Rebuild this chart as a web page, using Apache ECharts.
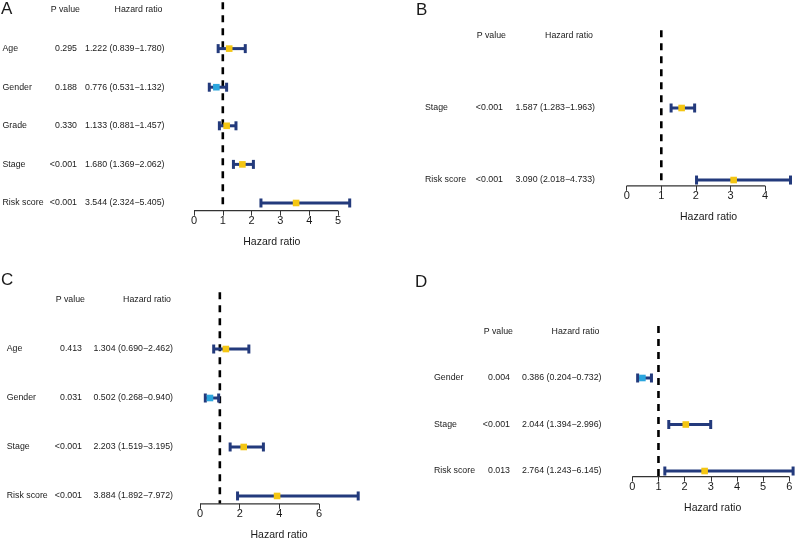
<!DOCTYPE html>
<html><head><meta charset="utf-8">
<script src="https://cdn.jsdelivr.net/npm/echarts@6/dist/echarts.min.js"></script>
<style>html,body{margin:0;padding:0;background:#fff}#c{width:796px;height:542px}</style>
</head><body><div id="c"></div>
<script>
// ---- Panel A ----
const aVars = ['Age', 'Gender', 'Grade', 'Stage', 'Risk score'];
const aP = ['0.295', '0.188', '0.330', '<0.001', '<0.001'];
const aHR = [1.222, 0.776, 1.133, 1.680, 3.544];
const aLow = [0.839, 0.531, 0.881, 1.369, 2.324];
const aHigh = [1.780, 1.132, 1.457, 2.062, 5.405];
const aTicks = [0, 1, 2, 3, 4, 5];
// ---- Panel B ----
const bVars = ['Stage', 'Risk score'];
const bP = ['<0.001', '<0.001'];
const bHR = [1.587, 3.090];
const bLow = [1.283, 2.018];
const bHigh = [1.963, 4.733];
const bTicks = [0, 1, 2, 3, 4];
// ---- Panel C ----
const cVars = ['Age', 'Gender', 'Stage', 'Risk score'];
const cP = ['0.413', '0.031', '<0.001', '<0.001'];
const cHR = [1.304, 0.502, 2.203, 3.884];
const cLow = [0.690, 0.268, 1.519, 1.892];
const cHigh = [2.462, 0.940, 3.195, 7.972];
const cTicks = [0, 2, 4, 6];
// ---- Panel D ----
const dVars = ['Gender', 'Stage', 'Risk score'];
const dP = ['0.004', '<0.001', '0.013'];
const dHR = [0.386, 2.044, 2.764];
const dLow = [0.204, 1.394, 1.243];
const dHigh = [0.732, 2.996, 6.145];
const dTicks = [0, 1, 2, 3, 4, 5, 6];

const FONT = '"Liberation Sans", Arial, Helvetica, sans-serif';
const NAVY = '#233a7c', YEL = '#f4c613', BLUE = '#2ba6de', TXT = '#1a1a1a';

const panels = [
  {letter: 'A', vars: aVars, p: aP, hr: aHR, low: aLow, high: aHigh, ticks: aTicks,
   grid: {left: 194, top: 2.3, width: 155.7, height: 208.4}, lx: 1, ly: 1,
   labelX: 2.5, pRight: 77, hrRight: 164.5},
  {letter: 'B', vars: bVars, p: bP, hr: bHR, low: bLow, high: bHigh, ticks: bTicks,
   grid: {left: 626.7, top: 30.2, width: 163.8, height: 155.6}, lx: 416, ly: 2,
   labelX: 425, pRight: 503, hrRight: 595},
  {letter: 'C', vars: cVars, p: cP, hr: cHR, low: cLow, high: cHigh, ticks: cTicks,
   grid: {left: 200, top: 292.2, width: 158.2, height: 211.6}, lx: 1, ly: 272,
   labelX: 6.7, pRight: 82, hrRight: 173},
  {letter: 'D', vars: dVars, p: dP, hr: dHR, low: dLow, high: dHigh, ticks: dTicks,
   grid: {left: 632.3, top: 325.9, width: 160.8, height: 150.7}, lx: 415, ly: 274,
   labelX: 434, pRight: 510, hrRight: 601.5}
];

function txt(x, y, s, align, size) {
  return {type: 'text', x: x, y: y, style: {text: s, fill: TXT, font: (size || 8.8) + 'px ' + FONT,
    align: align, verticalAlign: 'middle', textAlign: align, textVerticalAlign: 'middle'}};
}

const grids = [], xAxes = [], yAxes = [], series = [], titles = [];
panels.forEach((P, k) => {
  const n = P.vars.length;
  const yMin = 1 - 0.04 * n, yMax = n + 1 + 0.04 * n;
  grids.push(Object.assign({outerBoundsMode: 'none', containLabel: false}, P.grid));
  titles.push({text: P.letter, left: P.lx, top: P.ly, padding: 0,
    textStyle: {fontSize: 17, fontWeight: 'normal', color: TXT, fontFamily: FONT}});
  xAxes.push({gridIndex: k, type: 'value', min: 0, max: Math.max(...P.high),
    axisLine: {show: false}, splitLine: {show: false},
    axisTick: {show: true, customValues: P.ticks, length: 5, lineStyle: {color: '#333', width: 1}},
    axisLabel: {customValues: P.ticks, margin: 5, fontSize: 11, color: TXT, fontFamily: FONT},
    name: 'Hazard ratio', nameLocation: 'middle', nameGap: 26,
    nameTextStyle: {fontSize: 10.5, color: TXT, fontFamily: FONT}});
  yAxes.push({gridIndex: k, type: 'value', min: yMin, max: yMax, show: false});
  // frame: headers, reference line at HR = 1, axis line between first and last tick
  series.push({type: 'custom', xAxisIndex: k, yAxisIndex: k, z: 1, clip: false, silent: true,
    data: [[1, n + 1]],
    renderItem: function (params, api) {
      const h = api.coord([0, n + 1])[1];
      const top = api.coord([1, yMax]), bot = api.coord([1, yMin]);
      const a0 = api.coord([P.ticks[0], yMin]), a1 = api.coord([P.ticks[P.ticks.length - 1], yMin]);
      return {type: 'group', children: [
        {type: 'line', shape: {x1: top[0], y1: top[1], x2: bot[0], y2: bot[1]},
         style: {stroke: '#000', lineWidth: 2.6, lineDash: [7, 6]}},
        {type: 'line', shape: {x1: a0[0], y1: a0[1], x2: a1[0], y2: a1[1]},
         style: {stroke: '#333', lineWidth: 1.2}},
        txt(P.pRight + 3, h, 'P value', 'right'),
        txt(P.hrRight - 2, h, 'Hazard ratio', 'right')
      ]};
    }});
  // rows: CI bars, HR squares, text columns
  series.push({type: 'custom', xAxisIndex: k, yAxisIndex: k, z: 2, clip: false, silent: true,
    data: P.hr.map((h, i) => [h, n - i, P.low[i], P.high[i]]),
    renderItem: function (params, api) {
      const i = params.dataIndex;
      const yv = api.value(1);
      const c = api.coord([api.value(0), yv]);
      const lo = api.coord([api.value(2), yv]);
      const hi = api.coord([api.value(3), yv]);
      const cap = 4.5, sq = 6.6;
      const bs = {stroke: NAVY, lineWidth: 3};
      const hrText = P.hr[i].toFixed(3) + ' (' + P.low[i].toFixed(3) + '\u2212' + P.high[i].toFixed(3) + ')';
      return {type: 'group', children: [
        {type: 'line', shape: {x1: lo[0], y1: lo[1], x2: hi[0], y2: hi[1]}, style: bs},
        {type: 'line', shape: {x1: lo[0], y1: lo[1] - cap, x2: lo[0], y2: lo[1] + cap}, style: bs},
        {type: 'line', shape: {x1: hi[0], y1: hi[1] - cap, x2: hi[0], y2: hi[1] + cap}, style: bs},
        {type: 'rect', shape: {x: c[0] - sq / 2, y: c[1] - sq / 2, width: sq, height: sq},
         style: {fill: P.hr[i] > 1 ? YEL : BLUE}},
        txt(P.labelX, c[1], P.vars[i], 'left'),
        txt(P.pRight, c[1], P.p[i], 'right'),
        txt(P.hrRight, c[1], hrText, 'right')
      ]};
    }});
});

const chart = echarts.init(document.getElementById('c'), null, {renderer: 'canvas'});
chart.setOption({
  backgroundColor: '#fff',
  animation: false,
  title: titles,
  grid: grids,
  xAxis: xAxes,
  yAxis: yAxes,
  series: series
});
</script>
</body></html>
